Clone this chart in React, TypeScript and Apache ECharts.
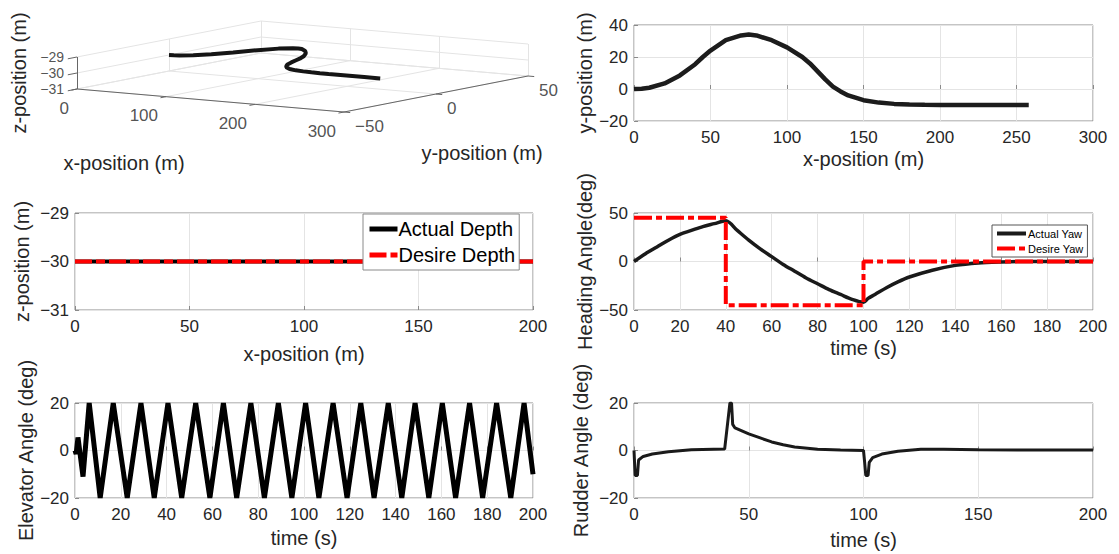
import React, { useEffect, useRef } from "react";
import * as echarts from "echarts";

// ---------------- data ----------------
// horizontal trajectory (x-position, y-position), depth constant
const trajX = [0, 5, 10, 20, 30, 40, 45, 50, 60, 70, 75, 80, 90, 100, 110, 115, 120, 125, 130, 135, 140, 150, 160, 170, 180, 190, 200, 220, 240, 258];
const trajY = [0, 0.2, 0.8, 3.5, 8.5, 15.5, 20, 24, 30.5, 33.5, 34, 33.5, 30.5, 26, 20, 16, 11, 6, 1.5, -1.5, -4, -7, -8.5, -9.3, -9.7, -9.9, -10, -10, -10, -10];
const trajDepth = -30;

// depth tracking
const depthX = [0, 200];
const actualDepth = [-30, -30];
const desiredDepth = [-30, -30];

// heading tracking
const yawT = [0, 5, 10, 15, 20, 25, 30, 35, 40, 45, 50, 55, 60, 65, 70, 75, 80, 85, 90, 95, 100, 102, 105, 110, 115, 120, 130, 140, 150, 160, 170, 185, 200];
const actualYaw = [0, 8, 15, 22, 28, 32, 36, 39, 42, 32, 22, 13, 5, -3, -10, -17, -23, -29, -34, -39, -42, -38, -34, -27, -21, -16, -9, -4, -1.5, -0.5, 0, 0, 0];
const desiredYawT = [0, 40, 40, 100, 100, 200];
const desiredYaw = [45, 45, -45, -45, 0, 0];

// elevator angle
const elevT = [0, 0.5, 1.3, 3.5, 6.2, 11, 16.7, 22.8, 28.8, 34.6, 40.6, 46.6, 52.7, 58.9, 64.8, 70.6, 76.8, 82.7, 88.8, 94.7, 100.7, 106.5, 112.7, 118.8, 124.8, 130.6, 136.8, 142.7, 148.5, 154.5, 160.4, 166.2, 172.3, 178, 184.1, 190.3, 196.1, 200];
const elevAngle = [0, -1.5, 5.5, -11, 20, -20, 20, -20, 20, -20, 20, -20, 20, -20, 20, -20, 20, -20, 20, -20, 20, -20, 20, -20, 20, -20, 20, -20, 20, -20, 20, -20, 20, -20, 20, -20, 20, -10];

// rudder angle
const rudT = [0, 0.5, 1.5, 2, 4, 8, 15, 25, 39.5, 41.8, 42.5, 43, 44, 50, 55, 60, 65, 70, 80, 90, 100, 100.5, 101, 102, 102.5, 104, 108, 115, 125, 135, 150, 170, 200];
const rudAngle = [0, -10.5, -10.5, -4, -2.5, -1.5, -0.5, 0.3, 0.6, 20, 20, 11, 9.5, 7, 5.3, 3.6, 2.4, 1.5, 0.5, 0.2, 0, -5, -10.5, -10.5, -5, -3, -1.5, -0.3, 0.5, 0.5, 0.3, 0.2, 0.2];

// 3D axes ticks
const xTicks3d = [0, 100, 200, 300];
const yTicks3d = [-50, 0, 50];
const zTicks3d = [-31, -30, -29];

// ---------------- layout / styling ----------------
const FONT = "'Liberation Sans', Arial, Helvetica, sans-serif";
const TXT = "#262626";
const BOX = "#8a8a8a";
const GRIDC = "#e4e4e4";
const TICK_FS = 17;
const NAME_FS = 20;

// 3D projection (screen pixels of the 3D panel)
const X0 = 0, Y0 = -50, Z0 = -31;
const P0 = [77, 89];
const EX = [0.89, 0.0767];
const EY = [1.84, -0.36];
const EZ = [0, -16];
function proj(x: number, y: number, z: number): number[] {
  return [
    P0[0] + (x - X0) * EX[0] + (y - Y0) * EY[0] + (z - Z0) * EZ[0],
    P0[1] + (x - X0) * EX[1] + (y - Y0) * EY[1] + (z - Z0) * EZ[1],
  ];
}

const fmt = (v: number) => String(v).replace("-", "\u2212");
const zip = (a: number[], b: number[]) => a.map((v, i) => [v, b[i]]);

function xAx(gridIndex: number, min: number, max: number, interval: number, name: string, nameGap: number) {
  return {
    type: "value", gridIndex, min, max, interval, name, nameLocation: "middle", nameGap,
    nameTextStyle: { fontSize: NAME_FS, color: TXT, fontFamily: FONT },
    axisLine: { show: false },
    axisTick: { show: true, inside: true, length: 4, lineStyle: { color: BOX } },
    axisLabel: { fontSize: TICK_FS, color: TXT, fontFamily: FONT, margin: 8, formatter: fmt },
    splitLine: { show: true, lineStyle: { color: GRIDC, width: 1 } },
  };
}
function yAx(gridIndex: number, min: number, max: number, interval: number, name: string, nameGap: number) {
  return {
    type: "value", gridIndex, min, max, interval, name, nameLocation: "middle", nameGap,
    nameTextStyle: { fontSize: NAME_FS, color: TXT, fontFamily: FONT },
    axisLine: { show: false },
    axisTick: { show: true, inside: true, length: 4, lineStyle: { color: BOX } },
    axisLabel: { fontSize: TICK_FS, color: TXT, fontFamily: FONT, margin: 6, formatter: fmt },
    splitLine: { show: true, lineStyle: { color: GRIDC, width: 1 } },
  };
}

function build3dLines() {
  const grid: { coords: number[][] }[] = [];
  const axes: { coords: number[][] }[] = [];
  // floor
  xTicks3d.forEach((t) => grid.push({ coords: [proj(t, -50, -31), proj(t, 50, -31)] }));
  yTicks3d.forEach((t) => grid.push({ coords: [proj(0, t, -31), proj(300, t, -31)] }));
  // back wall x = 0
  yTicks3d.forEach((t) => grid.push({ coords: [proj(0, t, -31), proj(0, t, -29)] }));
  zTicks3d.forEach((t) => grid.push({ coords: [proj(0, -50, t), proj(0, 50, t)] }));
  // back wall y = 50
  xTicks3d.forEach((t) => grid.push({ coords: [proj(t, 50, -31), proj(t, 50, -29)] }));
  zTicks3d.forEach((t) => grid.push({ coords: [proj(0, 50, t), proj(300, 50, t)] }));
  // axes
  axes.push({ coords: [proj(0, -50, -31), proj(300, -50, -31)] });
  axes.push({ coords: [proj(300, -50, -31), proj(300, 50, -31)] });
  axes.push({ coords: [proj(0, -50, -31), proj(0, -50, -29)] });
  // ticks
  xTicks3d.forEach((t) => axes.push({ coords: [proj(t, -50, -31), proj(t, -53, -31)] }));
  yTicks3d.forEach((t) => axes.push({ coords: [proj(300, t, -31), proj(307, t, -31)] }));
  zTicks3d.forEach((t) => axes.push({ coords: [proj(0, -50, t), proj(0, -55, t)] }));
  return { grid, axes };
}

const labelSeries = (data: { value: number[]; name: string }[], align: string, offset: number[], fontSize: number) => ({
  type: "scatter", xAxisIndex: 0, yAxisIndex: 0, symbolSize: 1, silent: true,
  itemStyle: { color: "rgba(0,0,0,0)" },
  data,
  label: { show: true, formatter: "{b}", position: "inside", align, verticalAlign: "middle", offset, fontSize, lineHeight: fontSize, color: TXT, fontFamily: FONT },
  z: 5,
});

export default function App() {
  const ref = useRef<HTMLDivElement>(null);
  useEffect(() => {
    if (!ref.current) return;
    const chart = echarts.init(ref.current, undefined, { renderer: "svg" });
    const l3 = build3dLines();
    const gridBox = { show: true, borderColor: BOX, borderWidth: 1, backgroundColor: "#fff" };

    const option = {
      animation: false,
      backgroundColor: "#fff",
      textStyle: { fontFamily: FONT },
      grid: [
        { left: 0, top: 0, width: 560, height: 180, show: false },
        { left: 634, top: 25, width: 459, height: 96, ...gridBox },
        { left: 75, top: 213, width: 458, height: 97, ...gridBox },
        { left: 634, top: 213, width: 459, height: 97, ...gridBox },
        { left: 75, top: 403, width: 458, height: 95, ...gridBox },
        { left: 634, top: 403, width: 459, height: 95, ...gridBox },
      ],
      xAxis: [
        { type: "value", gridIndex: 0, min: 0, max: 560, show: false },
        xAx(1, 0, 300, 50, "x-position (m)", 28),
        xAx(2, 0, 200, 50, "x-position (m)", 34),
        xAx(3, 0, 200, 20, "time (s)", 28),
        xAx(4, 0, 200, 20, "time (s)", 30),
        xAx(5, 0, 200, 50, "time (s)", 32),
      ],
      yAxis: [
        { type: "value", gridIndex: 0, min: 0, max: 180, inverse: true, show: false },
        yAx(1, -20, 40, 20, "y-position (m)", 30),
        yAx(2, -31, -29, 1, "z-position (m)", 43),
        yAx(3, -50, 50, 50, "Heading Angle(deg)", 37),
        yAx(4, -20, 20, 20, "Elevator Angle (deg)", 35),
        yAx(5, -20, 20, 20, "Rudder Angle (deg)", 43),
      ],
      legend: [
        {
          data: ["Actual Depth", "Desire Depth"], orient: "vertical", left: 363, top: 214,
          backgroundColor: "#fff", borderColor: BOX, borderWidth: 1, padding: [5, 4, 5, 4],
          itemGap: 6, itemWidth: 28, itemHeight: 20,
          itemStyle: { opacity: 0 }, lineStyle: { width: 5 },
          textStyle: { fontSize: 20, color: "#000", fontFamily: FONT, padding: [0, 0, 0, -4] },
          selectedMode: false, z: 10,
        },
        {
          data: ["Actual Yaw", "Desire Yaw"], orient: "vertical", left: 992, top: 225,
          backgroundColor: "#fff", borderColor: "#555", borderWidth: 1, padding: [3, 4, 3, 3],
          itemGap: 4, itemWidth: 29, itemHeight: 10,
          itemStyle: { opacity: 0 }, lineStyle: { width: 4 },
          textStyle: { fontSize: 11, color: "#000", fontFamily: FONT, padding: [0, 0, 0, -3] },
          selectedMode: false, z: 10,
        },
      ],
      graphic: [
        { type: "text", x: 124, y: 163, style: { text: "x-position (m)", fontSize: NAME_FS, fill: TXT, fontFamily: FONT, align: "center", verticalAlign: "middle" } },
        { type: "text", x: 482, y: 153, style: { text: "y-position (m)", fontSize: NAME_FS, fill: TXT, fontFamily: FONT, align: "center", verticalAlign: "middle" } },
        { type: "text", x: 19, y: 73, rotation: Math.PI / 2, style: { text: "z-position (m)", fontSize: NAME_FS, fill: TXT, fontFamily: FONT, align: "center", verticalAlign: "middle" } },
      ],
      series: [
        // ---- 3D panel ----
        { type: "lines", coordinateSystem: "cartesian2d", xAxisIndex: 0, yAxisIndex: 0, silent: true, data: l3.grid, lineStyle: { color: GRIDC, width: 1, opacity: 1 }, z: 1 },
        { type: "lines", coordinateSystem: "cartesian2d", xAxisIndex: 0, yAxisIndex: 0, silent: true, data: l3.axes, lineStyle: { color: "#666", width: 1, opacity: 1 }, z: 2 },
        {
          type: "line", xAxisIndex: 0, yAxisIndex: 0, showSymbol: false, clip: false, silent: true,
          data: trajX.map((x, i) => proj(x, trajY[i], trajDepth)),
          lineStyle: { color: "#151515", width: 4 }, z: 3,
        },
        labelSeries(xTicks3d.map((t) => ({ value: proj(t, -50, -31), name: fmt(t) })), "right", [-8, 19], TICK_FS),
        labelSeries(yTicks3d.map((t) => ({ value: proj(300, t, -31), name: fmt(t) })), "left", [11, 14], TICK_FS),
        labelSeries(zTicks3d.map((t) => ({ value: proj(0, -50, t), name: fmt(t) })), "right", [-13, 0], 14),

        // ---- x-y trajectory ----
        { type: "line", xAxisIndex: 1, yAxisIndex: 1, showSymbol: false, data: zip(trajX, trajY), lineStyle: { color: "#1c1c1c", width: 4.5 } },

        // ---- depth ----
        { name: "Actual Depth", type: "line", xAxisIndex: 2, yAxisIndex: 2, showSymbol: false, symbol: "none", data: zip(depthX, actualDepth), lineStyle: { color: "#000", width: 4 }, itemStyle: { color: "#000" } },
        { name: "Desire Depth", type: "line", xAxisIndex: 2, yAxisIndex: 2, showSymbol: false, symbol: "none", data: zip(depthX, desiredDepth), lineStyle: { color: "#ff0000", width: 4, type: [17, 4, 9, 4] }, itemStyle: { color: "#ff0000" } },

        // ---- heading ----
        { name: "Actual Yaw", type: "line", xAxisIndex: 3, yAxisIndex: 3, showSymbol: false, symbol: "none", smooth: 0.3, data: zip(yawT, actualYaw), lineStyle: { color: "#1a1a1a", width: 3.5 }, itemStyle: { color: "#000" } },
        { name: "Desire Yaw", type: "line", xAxisIndex: 3, yAxisIndex: 3, showSymbol: false, symbol: "none", data: zip(desiredYawT, desiredYaw), lineStyle: { color: "#ff0000", width: 4, type: [18, 4, 6, 4] }, itemStyle: { color: "#ff0000" } },

        // ---- elevator ----
        { type: "line", xAxisIndex: 4, yAxisIndex: 4, showSymbol: false, data: zip(elevT, elevAngle), lineStyle: { color: "#000", width: 5 } },

        // ---- rudder ----
        { type: "line", xAxisIndex: 5, yAxisIndex: 5, showSymbol: false, data: zip(rudT, rudAngle), lineStyle: { color: "#1a1a1a", width: 3 } },
      ],
    };
    chart.setOption(option as any);
    return () => chart.dispose();
  }, []);
  return <div ref={ref} style={{ position: "fixed", left: 0, top: 0, width: 1119, height: 554, background: "#fff" }} />;
}
